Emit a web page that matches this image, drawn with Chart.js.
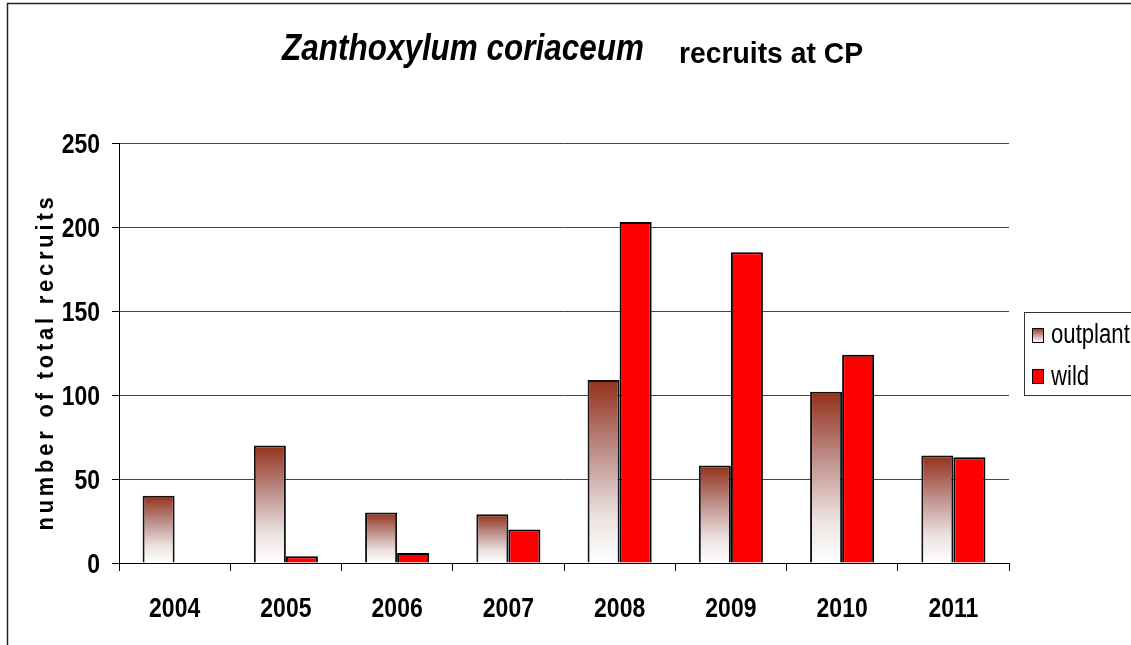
<!DOCTYPE html>
<html>
<head>
<meta charset="utf-8">
<title>Zanthoxylum coriaceum recruits at CP</title>
<script src="https://cdn.jsdelivr.net/npm/chart.js@4/dist/chart.umd.min.js"></script>
<style>
body { margin: 0; background: #fff; }
canvas { display: block; }
</style>
</head>
<body>
<canvas id="grafico" width="1131" height="645"></canvas>
<script>

var years = ['2004', '2005', '2006', '2007', '2008', '2009', '2010', '2011'];
var outplant = [40, 70, 30, 29, 109, 58, 102, 64];
var wild = [0, 4, 6, 20, 203, 185, 124, 63];
var yTicks = [0, 50, 100, 150, 200, 250];
var seriesNames = ['outplant', 'wild'];

// nao ha fonte estreita instalada, entao a Liberation Sans e comprimida na horizontal
var fonte = "'Liberation Sans', Arial, sans-serif";
var estreito = 0.82;

function texto(ctx, str, x, y, align, sx) {
    ctx.save();
    ctx.translate(x, y);
    ctx.scale(sx, 1);
    ctx.textAlign = align;
    ctx.fillText(str, 0, 0);
    ctx.restore();
}

// escreve o texto comprimido para caber na largura dada
function textoLargura(ctx, str, x, y, largura) {
    var w = ctx.measureText(str).width;
    texto(ctx, str, x, y, 'left', largura / w);
}

function gradOutplant(context) {
    var chart = context.chart;
    if (!chart.chartArea || context.dataIndex === undefined) {
        return '#b07060';
    }
    var y = chart.scales.y;
    var topo = y.getPixelForValue(outplant[context.dataIndex]);
    var base = y.getPixelForValue(0);
    if (base - topo < 1) {
        return '#ffffff';
    }
    var g = chart.ctx.createLinearGradient(0, topo, 0, base);
    g.addColorStop(0, '#93301a');
    g.addColorStop(0.4, '#bf918c');
    g.addColorStop(0.75, '#ece2e1');
    g.addColorStop(1, '#ffffff');
    return g;
}

var desenho = {
    id: 'desenho',
    beforeDraw: function (chart) {
        var ctx = chart.ctx;
        ctx.save();
        ctx.fillStyle = '#fff';
        ctx.fillRect(0, 0, chart.width, chart.height);
        ctx.strokeStyle = '#222';
        ctx.lineWidth = 1.5;
        ctx.strokeRect(7.5, 3.5, 1200, 700);
        ctx.restore();
    },
    afterDraw: function (chart) {
        var ctx = chart.ctx;
        var sx = chart.scales.x;
        var sy = chart.scales.y;
        ctx.save();
        ctx.fillStyle = '#000';
        ctx.textBaseline = 'alphabetic';

        // titulo com duas partes
        ctx.font = 'italic bold 36px ' + fonte;
        textoLargura(ctx, 'Zanthoxylum coriaceum', 282, 60, 362);
        ctx.font = 'bold 30px ' + fonte;
        textoLargura(ctx, 'recruits at CP', 679, 63, 184);

        // rotulos dos eixos
        ctx.font = 'bold 28px ' + fonte;
        for (var i = 0; i < years.length; i++) {
            texto(ctx, years[i], sx.getPixelForValue(i), 617, 'center', estreito);
        }
        for (var j = 0; j < yTicks.length; j++) {
            texto(ctx, String(yTicks[j]), 100, sy.getPixelForValue(yTicks[j]) + 10, 'right', estreito);
        }

        // titulo do eixo y
        ctx.save();
        ctx.translate(53, 362);
        ctx.rotate(-Math.PI / 2);
        ctx.font = 'bold 23px ' + fonte;
        ctx.letterSpacing = '4px';
        var wt = ctx.measureText('number of total recruits').width;
        ctx.scale(337 / wt, 1);
        ctx.textAlign = 'center';
        ctx.fillText('number of total recruits', 0, 0);
        ctx.restore();

        // legenda
        ctx.fillStyle = '#fff';
        ctx.fillRect(1024, 312, 200, 83);
        ctx.strokeStyle = '#333';
        ctx.lineWidth = 1;
        ctx.strokeRect(1024.5, 312.5, 200, 83);

        var g = ctx.createLinearGradient(0, 328, 0, 342);
        g.addColorStop(0, '#93301a');
        g.addColorStop(1, '#ffffff');
        ctx.fillStyle = g;
        ctx.fillRect(1032, 328, 11, 14);
        ctx.strokeStyle = '#000';
        ctx.strokeRect(1032.5, 328.5, 11, 14);
        ctx.fillStyle = '#ff0000';
        ctx.fillRect(1032, 369, 11, 14);
        ctx.strokeRect(1032.5, 369.5, 11, 14);

        ctx.fillStyle = '#000';
        ctx.font = '27px ' + fonte;
        texto(ctx, seriesNames[0], 1051, 343, 'left', estreito);
        texto(ctx, seriesNames[1], 1051, 385, 'left', estreito);
        ctx.restore();
    }
};

var ctx = document.getElementById('grafico');

var grafico = new Chart(ctx, {
    type: 'bar',
    data: {
        labels: years,
        datasets: [{
            label: seriesNames[0],
            data: outplant,
            backgroundColor: gradOutplant,
            borderColor: '#111',
            borderWidth: 2,
            borderSkipped: 'bottom'
        }, {
            label: seriesNames[1],
            data: wild,
            backgroundColor: '#ff0000',
            borderColor: '#000',
            borderWidth: 2,
            borderSkipped: 'bottom'
        }]
    },
    options: {
        responsive: false,
        animation: false,
        devicePixelRatio: 1,
        layout: {
            padding: { left: 0, right: 122, top: 143, bottom: 0 }
        },
        datasets: {
            bar: {
                categoryPercentage: 0.576,
                barPercentage: 1.0
            }
        },
        plugins: {
            legend: { display: false },
            title: { display: false },
            tooltip: { enabled: false }
        },
        scales: {
            x: {
                afterFit: function (scale) { scale.height = 82; },
                grid: {
                    drawOnChartArea: false,
                    drawTicks: true,
                    tickLength: 8,
                    color: '#000',
                    offset: true
                },
                border: { color: '#000', width: 1 },
                ticks: { display: false }
            },
            y: {
                min: 0,
                max: 250,
                afterFit: function (scale) { scale.width = 119; },
                afterBuildTicks: function (scale) {
                    scale.ticks = yTicks.map(function (v) { return { value: v }; });
                },
                grid: {
                    color: '#444',
                    lineWidth: 1,
                    tickLength: 7,
                    tickColor: '#000'
                },
                border: { color: '#000', width: 1 },
                ticks: { display: false }
            }
        }
    },
    plugins: [desenho]
});

</script>
</body>
</html>
